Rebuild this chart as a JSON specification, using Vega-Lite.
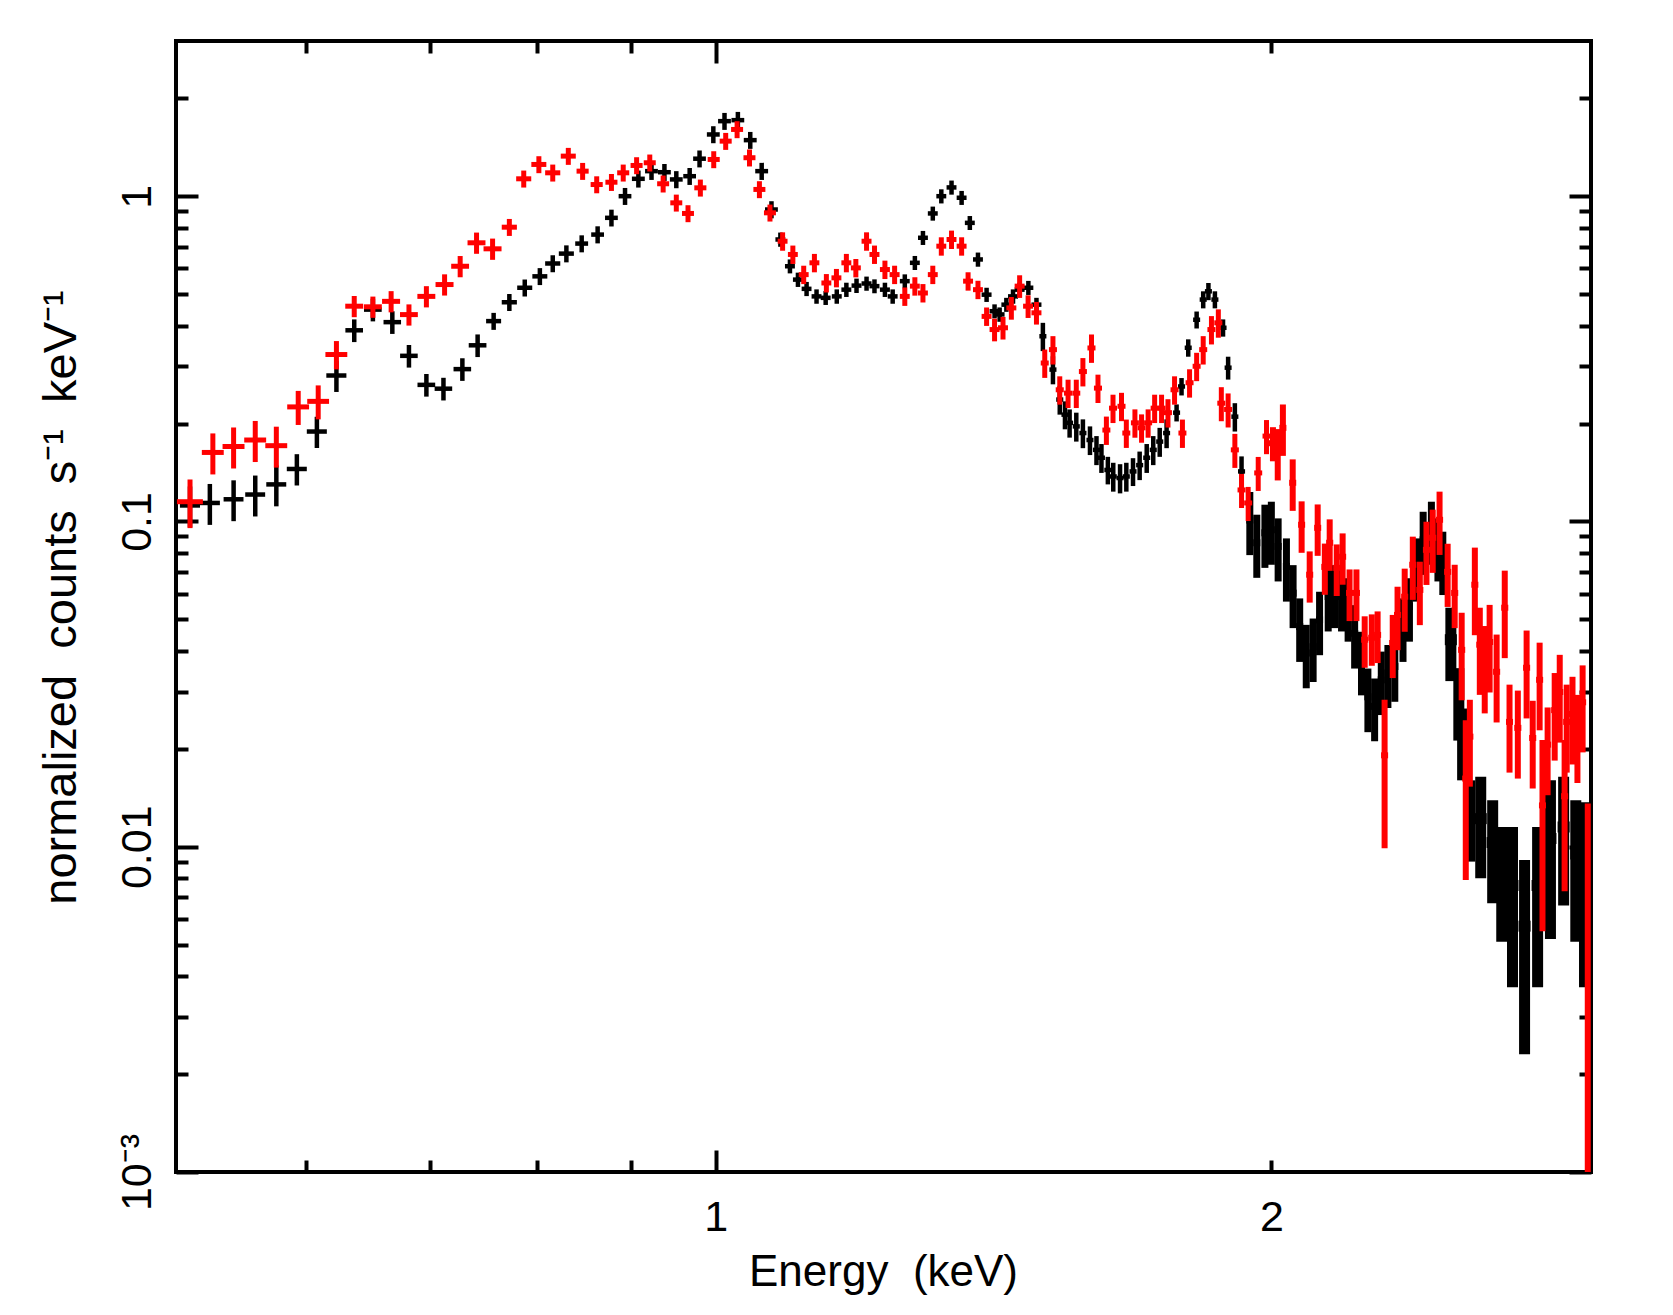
{
  "$schema": "https://vega.github.io/schema/vega-lite/v6.json",
  "width": 1415,
  "height": 1131,
  "autosize": {"type": "none"},
  "padding": {"left": 176, "top": 41, "right": 82, "bottom": 143},
  "background": "white",
  "datasets": {
    "black": [
      {"E":0.519,"dE":0.0065,"c":0.112,"dc":0.0161},
      {"E":0.532,"dE":0.0067,"c":0.114,"dc":0.0164},
      {"E":0.548,"dE":0.0068,"c":0.117,"dc":0.0168},
      {"E":0.563,"dE":0.0070,"c":0.121,"dc":0.0174},
      {"E":0.578,"dE":0.0072,"c":0.130,"dc":0.0187},
      {"E":0.593,"dE":0.0074,"c":0.145,"dc":0.016},
      {"E":0.608,"dE":0.0076,"c":0.189,"dc":0.0208},
      {"E":0.623,"dE":0.0078,"c":0.281,"dc":0.0309},
      {"E":0.637,"dE":0.0070,"c":0.387,"dc":0.031},
      {"E":0.652,"dE":0.0072,"c":0.448,"dc":0.0358},
      {"E":0.668,"dE":0.0073,"c":0.410,"dc":0.0328},
      {"E":0.682,"dE":0.0075,"c":0.323,"dc":0.0258},
      {"E":0.697,"dE":0.0077,"c":0.263,"dc":0.021},
      {"E":0.712,"dE":0.0078,"c":0.256,"dc":0.0205},
      {"E":0.729,"dE":0.0080,"c":0.294,"dc":0.0235},
      {"E":0.743,"dE":0.0082,"c":0.348,"dc":0.0278},
      {"E":0.758,"dE":0.0071,"c":0.413,"dc":0.0248},
      {"E":0.773,"dE":0.0073,"c":0.472,"dc":0.0283},
      {"E":0.788,"dE":0.0074,"c":0.523,"dc":0.0314},
      {"E":0.803,"dE":0.0075,"c":0.567,"dc":0.034},
      {"E":0.816,"dE":0.0077,"c":0.621,"dc":0.0373},
      {"E":0.830,"dE":0.0078,"c":0.666,"dc":0.040},
      {"E":0.846,"dE":0.0068,"c":0.715,"dc":0.043},
      {"E":0.863,"dE":0.0069,"c":0.762,"dc":0.046},
      {"E":0.878,"dE":0.0070,"c":0.858,"dc":0.051},
      {"E":0.893,"dE":0.0071,"c":1.000,"dc":0.060},
      {"E":0.908,"dE":0.0073,"c":1.131,"dc":0.068},
      {"E":0.923,"dE":0.0074,"c":1.194,"dc":0.072},
      {"E":0.938,"dE":0.0075,"c":1.185,"dc":0.071},
      {"E":0.952,"dE":0.0076,"c":1.126,"dc":0.068},
      {"E":0.968,"dE":0.0077,"c":1.152,"dc":0.069},
      {"E":0.980,"dE":0.0078,"c":1.304,"dc":0.078},
      {"E":0.997,"dE":0.0080,"c":1.548,"dc":0.093},
      {"E":1.011,"dE":0.0081,"c":1.701,"dc":0.102},
      {"E":1.028,"dE":0.0082,"c":1.713,"dc":0.103},
      {"E":1.044,"dE":0.0084,"c":1.487,"dc":0.089},
      {"E":1.059,"dE":0.0085,"c":1.194,"dc":0.072},
      {"E":1.072,"dE":0.0086,"c":0.910,"dc":0.055},
      {"E":1.084,"dE":0.0067,"c":0.736,"dc":0.037},
      {"E":1.097,"dE":0.0068,"c":0.609,"dc":0.030},
      {"E":1.108,"dE":0.0069,"c":0.554,"dc":0.028},
      {"E":1.120,"dE":0.0069,"c":0.519,"dc":0.026},
      {"E":1.134,"dE":0.0070,"c":0.492,"dc":0.025},
      {"E":1.147,"dE":0.0071,"c":0.487,"dc":0.024},
      {"E":1.163,"dE":0.0072,"c":0.492,"dc":0.025},
      {"E":1.177,"dE":0.0073,"c":0.516,"dc":0.026},
      {"E":1.192,"dE":0.0074,"c":0.531,"dc":0.027},
      {"E":1.207,"dE":0.0075,"c":0.539,"dc":0.027},
      {"E":1.219,"dE":0.0076,"c":0.529,"dc":0.026},
      {"E":1.235,"dE":0.0077,"c":0.516,"dc":0.026},
      {"E":1.247,"dE":0.0077,"c":0.492,"dc":0.025},
      {"E":1.266,"dE":0.0078,"c":0.548,"dc":0.027},
      {"E":1.282,"dE":0.0079,"c":0.624,"dc":0.031},
      {"E":1.295,"dE":0.0080,"c":0.745,"dc":0.037},
      {"E":1.311,"dE":0.0081,"c":0.885,"dc":0.044},
      {"E":1.325,"dE":0.0082,"c":1.000,"dc":0.050},
      {"E":1.342,"dE":0.0083,"c":1.064,"dc":0.053},
      {"E":1.359,"dE":0.0084,"c":0.989,"dc":0.049},
      {"E":1.373,"dE":0.0085,"c":0.828,"dc":0.041},
      {"E":1.387,"dE":0.0086,"c":0.639,"dc":0.032},
      {"E":1.402,"dE":0.0087,"c":0.498,"dc":0.025},
      {"E":1.416,"dE":0.0088,"c":0.443,"dc":0.022},
      {"E":1.425,"dE":0.0088,"c":0.433,"dc":0.022},
      {"E":1.437,"dE":0.0089,"c":0.464,"dc":0.023},
      {"E":1.449,"dE":0.0090,"c":0.492,"dc":0.025},
      {"E":1.461,"dE":0.0091,"c":0.516,"dc":0.026},
      {"E":1.477,"dE":0.0092,"c":0.523,"dc":0.026},
      {"E":1.492,"dE":0.0093,"c":0.464,"dc":0.023},
      {"E":1.504,"dE":0.0066,"c":0.371,"dc":0.037},
      {"E":1.523,"dE":0.0067,"c":0.293,"dc":0.029},
      {"E":1.536,"dE":0.0068,"c":0.237,"dc":0.024},
      {"E":1.546,"dE":0.0068,"c":0.213,"dc":0.021},
      {"E":1.555,"dE":0.0068,"c":0.201,"dc":0.020},
      {"E":1.568,"dE":0.0069,"c":0.196,"dc":0.020},
      {"E":1.581,"dE":0.0070,"c":0.187,"dc":0.019},
      {"E":1.595,"dE":0.0070,"c":0.178,"dc":0.018},
      {"E":1.608,"dE":0.0071,"c":0.166,"dc":0.017},
      {"E":1.618,"dE":0.0071,"c":0.157,"dc":0.016},
      {"E":1.631,"dE":0.0072,"c":0.144,"dc":0.014},
      {"E":1.642,"dE":0.0072,"c":0.1375,"dc":0.014},
      {"E":1.656,"dE":0.0073,"c":0.136,"dc":0.014},
      {"E":1.669,"dE":0.0073,"c":0.1375,"dc":0.014},
      {"E":1.683,"dE":0.0074,"c":0.1425,"dc":0.014},
      {"E":1.697,"dE":0.0075,"c":0.149,"dc":0.015},
      {"E":1.712,"dE":0.0075,"c":0.157,"dc":0.016},
      {"E":1.726,"dE":0.0076,"c":0.166,"dc":0.017},
      {"E":1.740,"dE":0.0077,"c":0.176,"dc":0.018},
      {"E":1.755,"dE":0.0077,"c":0.187,"dc":0.019},
      {"E":1.777,"dE":0.0078,"c":0.216,"dc":0.013},
      {"E":1.788,"dE":0.0079,"c":0.260,"dc":0.016},
      {"E":1.803,"dE":0.0079,"c":0.342,"dc":0.021},
      {"E":1.822,"dE":0.0080,"c":0.417,"dc":0.025},
      {"E":1.837,"dE":0.0081,"c":0.481,"dc":0.029},
      {"E":1.849,"dE":0.0081,"c":0.510,"dc":0.031},
      {"E":1.864,"dE":0.0082,"c":0.481,"dc":0.029},
      {"E":1.883,"dE":0.0083,"c":0.394,"dc":0.024},
      {"E":1.895,"dE":0.0083,"c":0.297,"dc":0.024},
      {"E":1.911,"dE":0.0084,"c":0.210,"dc":0.021},
      {"E":1.927,"dE":0.0085,"c":0.1425,"dc":0.016},
      {"E":1.947,"dE":0.0086,"c":0.101,"dc":0.0222},
      {"E":1.964,"dE":0.0086,"c":0.086,"dc":0.0189},
      {"E":1.984,"dE":0.0087,"c":0.0923,"dc":0.0203},
      {"E":2.000,"dE":0.0088,"c":0.0943,"dc":0.0207},
      {"E":2.017,"dE":0.0089,"c":0.0838,"dc":0.0184},
      {"E":2.038,"dE":0.0090,"c":0.0727,"dc":0.016},
      {"E":2.055,"dE":0.0090,"c":0.0602,"dc":0.0132},
      {"E":2.072,"dE":0.0091,"c":0.0475,"dc":0.0105},
      {"E":2.089,"dE":0.0092,"c":0.0394,"dc":0.0087},
      {"E":2.107,"dE":0.0093,"c":0.0412,"dc":0.0091},
      {"E":2.124,"dE":0.0093,"c":0.0498,"dc":0.011},
      {"E":2.147,"dE":0.0094,"c":0.0588,"dc":0.0129},
      {"E":2.164,"dE":0.0095,"c":0.0602,"dc":0.0132},
      {"E":2.183,"dE":0.0096,"c":0.0588,"dc":0.0129},
      {"E":2.201,"dE":0.0097,"c":0.0548,"dc":0.0121},
      {"E":2.219,"dE":0.0098,"c":0.0453,"dc":0.010},
      {"E":2.238,"dE":0.0098,"c":0.0375,"dc":0.0083},
      {"E":2.256,"dE":0.0099,"c":0.0289,"dc":0.0064},
      {"E":2.275,"dE":0.0100,"c":0.0270,"dc":0.0059},
      {"E":2.294,"dE":0.0101,"c":0.0326,"dc":0.0072},
      {"E":2.313,"dE":0.0102,"c":0.0342,"dc":0.0075},
      {"E":2.333,"dE":0.0103,"c":0.0358,"dc":0.0079},
      {"E":2.357,"dE":0.0104,"c":0.0475,"dc":0.0105},
      {"E":2.376,"dE":0.0105,"c":0.0548,"dc":0.0121},
      {"E":2.397,"dE":0.0105,"c":0.0727,"dc":0.016},
      {"E":2.417,"dE":0.0106,"c":0.0878,"dc":0.0193},
      {"E":2.442,"dE":0.0107,"c":0.0943,"dc":0.0207},
      {"E":2.462,"dE":0.0108,"c":0.0838,"dc":0.0184},
      {"E":2.477,"dE":0.0109,"c":0.0762,"dc":0.0168},
      {"E":2.502,"dE":0.0188,"c":0.0433,"dc":0.011},
      {"E":2.527,"dE":0.0110,"c":0.0283,"dc":0.0071},
      {"E":2.539,"dE":0.0110,"c":0.0213,"dc":0.0053},
      {"E":2.562,"dE":0.0110,"c":0.0125,"dc":0.0035},
      {"E":2.597,"dE":0.0195,"c":0.0122,"dc":0.0042},
      {"E":2.636,"dE":0.0198,"c":0.0103,"dc":0.0036},
      {"E":2.666,"dE":0.0200,"c":0.0083,"dc":0.0032},
      {"E":2.702,"dE":0.0203,"c":0.0076,"dc":0.0039},
      {"E":2.743,"dE":0.0206,"c":0.0057,"dc":0.0034},
      {"E":2.788,"dE":0.0209,"c":0.0076,"dc":0.0039},
      {"E":2.833,"dE":0.0212,"c":0.0106,"dc":0.0054},
      {"E":2.880,"dE":0.0216,"c":0.0115,"dc":0.0049},
      {"E":2.924,"dE":0.0200,"c":0.0095,"dc":0.0044},
      {"E":2.956,"dE":0.0120,"c":0.0087,"dc":0.005}
    ],
    "red": [
      {"E":0.519,"dE":0.0084,"c":0.115,"dc":0.0196},
      {"E":0.534,"dE":0.0073,"c":0.163,"dc":0.0235},
      {"E":0.548,"dE":0.0075,"c":0.170,"dc":0.0245},
      {"E":0.563,"dE":0.0077,"c":0.178,"dc":0.0257},
      {"E":0.578,"dE":0.0079,"c":0.171,"dc":0.0246},
      {"E":0.594,"dE":0.0081,"c":0.225,"dc":0.027},
      {"E":0.609,"dE":0.0083,"c":0.234,"dc":0.028},
      {"E":0.623,"dE":0.0085,"c":0.326,"dc":0.0326},
      {"E":0.637,"dE":0.0071,"c":0.459,"dc":0.0344},
      {"E":0.652,"dE":0.0073,"c":0.457,"dc":0.0343},
      {"E":0.667,"dE":0.0075,"c":0.475,"dc":0.0356},
      {"E":0.682,"dE":0.0076,"c":0.4325,"dc":0.0324},
      {"E":0.697,"dE":0.0078,"c":0.492,"dc":0.0369},
      {"E":0.713,"dE":0.0080,"c":0.535,"dc":0.0401},
      {"E":0.727,"dE":0.0081,"c":0.609,"dc":0.0457},
      {"E":0.742,"dE":0.0083,"c":0.719,"dc":0.0539},
      {"E":0.757,"dE":0.0085,"c":0.689,"dc":0.0517},
      {"E":0.773,"dE":0.0073,"c":0.803,"dc":0.0482},
      {"E":0.787,"dE":0.0074,"c":1.131,"dc":0.0679},
      {"E":0.802,"dE":0.0075,"c":1.252,"dc":0.0751},
      {"E":0.816,"dE":0.0077,"c":1.180,"dc":0.0708},
      {"E":0.832,"dE":0.0078,"c":1.328,"dc":0.0797},
      {"E":0.847,"dE":0.0064,"c":1.194,"dc":0.0716},
      {"E":0.862,"dE":0.0065,"c":1.086,"dc":0.0652},
      {"E":0.878,"dE":0.0066,"c":1.104,"dc":0.0662},
      {"E":0.891,"dE":0.0067,"c":1.180,"dc":0.0708},
      {"E":0.906,"dE":0.0068,"c":1.243,"dc":0.0746},
      {"E":0.921,"dE":0.0069,"c":1.267,"dc":0.076},
      {"E":0.9365,"dE":0.0070,"c":1.092,"dc":0.0655},
      {"E":0.952,"dE":0.0071,"c":0.954,"dc":0.0572},
      {"E":0.966,"dE":0.0072,"c":0.885,"dc":0.0531},
      {"E":0.981,"dE":0.0074,"c":1.061,"dc":0.0637},
      {"E":0.9975,"dE":0.0075,"c":1.297,"dc":0.0778},
      {"E":1.0125,"dE":0.0076,"c":1.4765,"dc":0.0886},
      {"E":1.027,"dE":0.0077,"c":1.604,"dc":0.0962},
      {"E":1.043,"dE":0.0078,"c":1.313,"dc":0.0788},
      {"E":1.056,"dE":0.0079,"c":1.049,"dc":0.0629},
      {"E":1.070,"dE":0.0080,"c":0.889,"dc":0.0533},
      {"E":1.087,"dE":0.0067,"c":0.727,"dc":0.0473},
      {"E":1.101,"dE":0.0068,"c":0.662,"dc":0.043},
      {"E":1.116,"dE":0.0069,"c":0.574,"dc":0.0373},
      {"E":1.131,"dE":0.0070,"c":0.624,"dc":0.0406},
      {"E":1.148,"dE":0.0071,"c":0.541,"dc":0.0352},
      {"E":1.1625,"dE":0.0072,"c":0.561,"dc":0.0365},
      {"E":1.177,"dE":0.0073,"c":0.624,"dc":0.0406},
      {"E":1.191,"dE":0.0074,"c":0.602,"dc":0.0391},
      {"E":1.207,"dE":0.0075,"c":0.727,"dc":0.0473},
      {"E":1.219,"dE":0.0076,"c":0.662,"dc":0.043},
      {"E":1.235,"dE":0.0077,"c":0.595,"dc":0.0387},
      {"E":1.250,"dE":0.0078,"c":0.574,"dc":0.0373},
      {"E":1.266,"dE":0.0078,"c":0.492,"dc":0.032},
      {"E":1.282,"dE":0.0079,"c":0.529,"dc":0.0344},
      {"E":1.295,"dE":0.0080,"c":0.504,"dc":0.0328},
      {"E":1.311,"dE":0.0081,"c":0.574,"dc":0.0373},
      {"E":1.325,"dE":0.0082,"c":0.702,"dc":0.0456},
      {"E":1.342,"dE":0.0083,"c":0.736,"dc":0.0478},
      {"E":1.359,"dE":0.0084,"c":0.702,"dc":0.0456},
      {"E":1.370,"dE":0.0085,"c":0.548,"dc":0.0356},
      {"E":1.387,"dE":0.0086,"c":0.516,"dc":0.0335},
      {"E":1.402,"dE":0.0087,"c":0.427,"dc":0.0278},
      {"E":1.416,"dE":0.0088,"c":0.389,"dc":0.0311},
      {"E":1.431,"dE":0.0089,"c":0.394,"dc":0.0315},
      {"E":1.446,"dE":0.0090,"c":0.4535,"dc":0.0363},
      {"E":1.461,"dE":0.0091,"c":0.529,"dc":0.0423},
      {"E":1.4765,"dE":0.0092,"c":0.459,"dc":0.0367},
      {"E":1.492,"dE":0.0093,"c":0.438,"dc":0.035},
      {"E":1.5075,"dE":0.0075,"c":0.307,"dc":0.0307},
      {"E":1.523,"dE":0.0076,"c":0.3375,"dc":0.0338},
      {"E":1.536,"dE":0.0077,"c":0.254,"dc":0.0254},
      {"E":1.552,"dE":0.0078,"c":0.248,"dc":0.0248},
      {"E":1.568,"dE":0.0078,"c":0.248,"dc":0.0248},
      {"E":1.581,"dE":0.0079,"c":0.289,"dc":0.0289},
      {"E":1.598,"dE":0.0080,"c":0.3415,"dc":0.0342},
      {"E":1.611,"dE":0.0081,"c":0.257,"dc":0.0257},
      {"E":1.628,"dE":0.0081,"c":0.191,"dc":0.0191},
      {"E":1.6415,"dE":0.0082,"c":0.223,"dc":0.0223},
      {"E":1.659,"dE":0.0083,"c":0.226,"dc":0.0226},
      {"E":1.669,"dE":0.0083,"c":0.187,"dc":0.0187},
      {"E":1.687,"dE":0.0084,"c":0.201,"dc":0.0201},
      {"E":1.701,"dE":0.0085,"c":0.194,"dc":0.0194},
      {"E":1.715,"dE":0.0086,"c":0.201,"dc":0.0201},
      {"E":1.729,"dE":0.0086,"c":0.223,"dc":0.0223},
      {"E":1.744,"dE":0.0087,"c":0.223,"dc":0.0223},
      {"E":1.758,"dE":0.0088,"c":0.216,"dc":0.0216},
      {"E":1.7725,"dE":0.0089,"c":0.254,"dc":0.0254},
      {"E":1.790,"dE":0.0089,"c":0.187,"dc":0.0187},
      {"E":1.806,"dE":0.0090,"c":0.267,"dc":0.0267},
      {"E":1.822,"dE":0.0091,"c":0.300,"dc":0.030},
      {"E":1.837,"dE":0.0092,"c":0.3375,"dc":0.0338},
      {"E":1.856,"dE":0.0093,"c":0.389,"dc":0.0389},
      {"E":1.872,"dE":0.0094,"c":0.408,"dc":0.0408},
      {"E":1.879,"dE":0.0094,"c":0.231,"dc":0.0277},
      {"E":1.895,"dE":0.0095,"c":0.221,"dc":0.0265},
      {"E":1.911,"dE":0.0096,"c":0.166,"dc":0.0199},
      {"E":1.927,"dE":0.0096,"c":0.125,"dc":0.015},
      {"E":1.943,"dE":0.0097,"c":0.114,"dc":0.0137},
      {"E":1.9675,"dE":0.0098,"c":0.141,"dc":0.0169},
      {"E":1.988,"dE":0.0099,"c":0.183,"dc":0.022},
      {"E":2.004,"dE":0.0100,"c":0.174,"dc":0.0209},
      {"E":2.016,"dE":0.0089,"c":0.163,"dc":0.0293},
      {"E":2.029,"dE":0.0089,"c":0.194,"dc":0.0349},
      {"E":2.054,"dE":0.0090,"c":0.1315,"dc":0.0237},
      {"E":2.077,"dE":0.0091,"c":0.0977,"dc":0.0176},
      {"E":2.098,"dE":0.0092,"c":0.0686,"dc":0.0123},
      {"E":2.119,"dE":0.0093,"c":0.0956,"dc":0.0172},
      {"E":2.138,"dE":0.0094,"c":0.0725,"dc":0.013},
      {"E":2.151,"dE":0.0095,"c":0.086,"dc":0.0155},
      {"E":2.170,"dE":0.0095,"c":0.072,"dc":0.013},
      {"E":2.186,"dE":0.0096,"c":0.0779,"dc":0.014},
      {"E":2.205,"dE":0.0097,"c":0.0603,"dc":0.0109},
      {"E":2.224,"dE":0.0098,"c":0.0603,"dc":0.0109},
      {"E":2.247,"dE":0.0099,"c":0.0433,"dc":0.0078},
      {"E":2.267,"dE":0.0100,"c":0.0439,"dc":0.0079},
      {"E":2.2835,"dE":0.0100,"c":0.0448,"dc":0.0081},
      {"E":2.3035,"dE":0.0101,"c":0.0191,"dc":0.0092},
      {"E":2.327,"dE":0.0102,"c":0.0423,"dc":0.0093},
      {"E":2.341,"dE":0.0103,"c":0.0516,"dc":0.0114},
      {"E":2.362,"dE":0.0104,"c":0.0587,"dc":0.0129},
      {"E":2.386,"dE":0.0105,"c":0.0736,"dc":0.0162},
      {"E":2.407,"dE":0.0106,"c":0.0616,"dc":0.0136},
      {"E":2.427,"dE":0.0107,"c":0.0818,"dc":0.018},
      {"E":2.446,"dE":0.0108,"c":0.0891,"dc":0.0196},
      {"E":2.467,"dE":0.0109,"c":0.1012,"dc":0.0223},
      {"E":2.492,"dE":0.0110,"c":0.0700,"dc":0.0154},
      {"E":2.514,"dE":0.0111,"c":0.0603,"dc":0.0133},
      {"E":2.536,"dE":0.0112,"c":0.0403,"dc":0.0121},
      {"E":2.549,"dE":0.0112,"c":0.0162,"dc":0.0083},
      {"E":2.562,"dE":0.0113,"c":0.0218,"dc":0.0065},
      {"E":2.578,"dE":0.0113,"c":0.0639,"dc":0.0192},
      {"E":2.594,"dE":0.0114,"c":0.0418,"dc":0.0125},
      {"E":2.610,"dE":0.0115,"c":0.0367,"dc":0.011},
      {"E":2.626,"dE":0.0116,"c":0.0426,"dc":0.0128},
      {"E":2.649,"dE":0.0117,"c":0.0345,"dc":0.0104},
      {"E":2.676,"dE":0.0118,"c":0.0543,"dc":0.0163},
      {"E":2.692,"dE":0.0118,"c":0.0242,"dc":0.0073},
      {"E":2.720,"dE":0.0120,"c":0.0232,"dc":0.007},
      {"E":2.750,"dE":0.0121,"c":0.0355,"dc":0.0107},
      {"E":2.771,"dE":0.0122,"c":0.0216,"dc":0.0065},
      {"E":2.795,"dE":0.0123,"c":0.0326,"dc":0.0098},
      {"E":2.805,"dE":0.0123,"c":0.0134,"dc":0.0079},
      {"E":2.823,"dE":0.0124,"c":0.0206,"dc":0.0062},
      {"E":2.848,"dE":0.0125,"c":0.0263,"dc":0.0079},
      {"E":2.866,"dE":0.0126,"c":0.0299,"dc":0.009},
      {"E":2.8835,"dE":0.0127,"c":0.0143,"dc":0.007},
      {"E":2.891,"dE":0.0127,"c":0.0242,"dc":0.0073},
      {"E":2.912,"dE":0.0128,"c":0.0256,"dc":0.0077},
      {"E":2.930,"dE":0.0129,"c":0.0225,"dc":0.0068},
      {"E":2.949,"dE":0.0130,"c":0.0278,"dc":0.0083},
      {"E":2.968,"dE":0.0080,"c":0.0068,"dc":0.00679}
    ]
  },
  "layer": [
    {
      "data": {"name": "black"},
      "transform": [{"filter": "datum.E < 1.94"}],
      "mark": {"type": "errorbar", "orient": "horizontal", "color": "#000000", "thickness": 4.5, "clip": true},
      "encoding": {
        "x": {
          "field": "E", "type": "quantitative",
          "scale": {"type": "log", "domain": [0.51, 2.98], "nice": false},
          "axis": {
            "orient": "bottom", "values": [1, 2], "ticks": false,
            "labelExpr": "datum.value < 1.5 ? '1' : '2'",
            "labelBaseline": "alphabetic", "labelPadding": 58,
            "title": "Energy\u00a0\u00a0(keV)", "titleBaseline": "alphabetic",
            "titleX": 707, "titleY": 113
          }
        },
        "xError": {"field": "dE"},
        "y": {
          "field": "c", "type": "quantitative",
          "scale": {"type": "log", "domain": [0.001, 3], "nice": false, "clamp": true},
          "axis": {
            "orient": "left", "values": [0.001, 0.01, 0.1, 1], "ticks": false,
            "labelExpr": "datum.value < 0.005 ? '10⁻³' : datum.value < 0.05 ? '0.01' : datum.value < 0.5 ? '0.1' : '1'",
            "labelAngle": 270, "labelAlign": "center", "labelBaseline": "alphabetic", "labelPadding": 26,
            "title": "normalized\u00a0\u00a0counts\u00a0\u00a0s⁻¹\u00a0\u00a0keV⁻¹", "titleAngle": 270,
            "titleFontSize": 47,
            "titleAlign": "center", "titleBaseline": "alphabetic",
            "titleX": -101, "titleY": 556
          }
        }
      }
    },
    {
      "data": {"name": "black"},
      "transform": [{"filter": "datum.E < 1.94"}],
      "mark": {"type": "errorbar", "orient": "vertical", "color": "#000000", "thickness": 4.5, "clip": true},
      "encoding": {
        "x": {
          "field": "E", "type": "quantitative",
          "scale": {"type": "log", "domain": [0.51, 2.98], "nice": false},
          "axis": {"orient": "bottom", "values": [1], "labels": false, "tickSize": -22, "title": null}
        },
        "y": {
          "field": "c", "type": "quantitative",
          "scale": {"type": "log", "domain": [0.001, 3], "nice": false, "clamp": true},
          "axis": {"orient": "left", "values": [0.001, 0.01, 0.1, 1], "labels": false, "tickSize": -22, "title": null}
        },
        "yError": {"field": "dc"}
      }
    },
    {
      "data": {"name": "black"},
      "transform": [{"filter": "datum.E >= 1.94 && datum.E < 2.49"}],
      "mark": {"type": "errorbar", "orient": "horizontal", "color": "#000000", "thickness": 7, "clip": true},
      "encoding": {
        "x": {"field": "E", "type": "quantitative", "scale": {"type": "log", "domain": [0.51, 2.98], "nice": false}, "axis": null},
        "xError": {"field": "dE"},
        "y": {"field": "c", "type": "quantitative", "scale": {"type": "log", "domain": [0.001, 3], "nice": false, "clamp": true}, "axis": null}
      }
    },
    {
      "data": {"name": "black"},
      "transform": [{"filter": "datum.E >= 1.94 && datum.E < 2.49"}],
      "mark": {"type": "errorbar", "orient": "vertical", "color": "#000000", "thickness": 7, "clip": true},
      "encoding": {
        "x": {"field": "E", "type": "quantitative", "scale": {"type": "log", "domain": [0.51, 2.98], "nice": false}, "axis": null},
        "y": {"field": "c", "type": "quantitative", "scale": {"type": "log", "domain": [0.001, 3], "nice": false, "clamp": true}, "axis": null},
        "yError": {"field": "dc"}
      }
    },
    {
      "data": {"name": "black"},
      "transform": [{"filter": "datum.E >= 2.49"}],
      "mark": {"type": "errorbar", "orient": "horizontal", "color": "#000000", "thickness": 11, "clip": true},
      "encoding": {
        "x": {"field": "E", "type": "quantitative", "scale": {"type": "log", "domain": [0.51, 2.98], "nice": false}, "axis": null},
        "xError": {"field": "dE"},
        "y": {"field": "c", "type": "quantitative", "scale": {"type": "log", "domain": [0.001, 3], "nice": false, "clamp": true}, "axis": null}
      }
    },
    {
      "data": {"name": "black"},
      "transform": [{"filter": "datum.E >= 2.49"}],
      "mark": {"type": "errorbar", "orient": "vertical", "color": "#000000", "thickness": 11, "clip": true},
      "encoding": {
        "x": {"field": "E", "type": "quantitative", "scale": {"type": "log", "domain": [0.51, 2.98], "nice": false}, "axis": null},
        "y": {"field": "c", "type": "quantitative", "scale": {"type": "log", "domain": [0.001, 3], "nice": false, "clamp": true}, "axis": null},
        "yError": {"field": "dc"}
      }
    },
    {
      "data": {"name": "red"},
      "transform": [{"filter": "datum.E < 2.0"}],
      "mark": {"type": "errorbar", "orient": "horizontal", "color": "#ff0000", "thickness": 5, "clip": true},
      "encoding": {
        "x": {
          "field": "E", "type": "quantitative",
          "scale": {"type": "log", "domain": [0.51, 2.98], "nice": false},
          "axis": {"orient": "bottom", "values": [0.6, 0.7, 0.8, 0.9, 2], "labels": false, "tickSize": -12, "title": null}
        },
        "xError": {"field": "dE"},
        "y": {
          "field": "c", "type": "quantitative",
          "scale": {"type": "log", "domain": [0.001, 3], "nice": false, "clamp": true},
          "axis": {
            "orient": "left", "labels": false, "tickSize": -12, "title": null,
            "values": [0.002, 0.003, 0.004, 0.005, 0.006, 0.007, 0.008, 0.009, 0.02, 0.03, 0.04, 0.05, 0.06, 0.07, 0.08, 0.09, 0.2, 0.3, 0.4, 0.5, 0.6, 0.7, 0.8, 0.9, 2]
          }
        }
      }
    },
    {
      "data": {"name": "red"},
      "transform": [{"filter": "datum.E < 2.0"}],
      "mark": {"type": "errorbar", "orient": "vertical", "color": "#ff0000", "thickness": 5, "clip": true},
      "encoding": {
        "x": {
          "field": "E", "type": "quantitative",
          "scale": {"type": "log", "domain": [0.51, 2.98], "nice": false},
          "axis": {"orient": "top", "values": [1], "labels": false, "tickSize": -22, "title": null}
        },
        "y": {
          "field": "c", "type": "quantitative",
          "scale": {"type": "log", "domain": [0.001, 3], "nice": false, "clamp": true},
          "axis": {"orient": "right", "values": [0.001, 0.01, 0.1, 1], "labels": false, "tickSize": -22, "title": null}
        },
        "yError": {"field": "dc"}
      }
    },
    {
      "data": {"name": "red"},
      "transform": [{"filter": "datum.E >= 2.0"}],
      "mark": {"type": "errorbar", "orient": "horizontal", "color": "#ff0000", "thickness": 6, "clip": true},
      "encoding": {
        "x": {"field": "E", "type": "quantitative", "scale": {"type": "log", "domain": [0.51, 2.98], "nice": false}, "axis": null},
        "xError": {"field": "dE"},
        "y": {"field": "c", "type": "quantitative", "scale": {"type": "log", "domain": [0.001, 3], "nice": false, "clamp": true}, "axis": null}
      }
    },
    {
      "data": {"name": "red"},
      "transform": [{"filter": "datum.E >= 2.0"}],
      "mark": {"type": "errorbar", "orient": "vertical", "color": "#ff0000", "thickness": 6, "clip": true},
      "encoding": {
        "x": {"field": "E", "type": "quantitative", "scale": {"type": "log", "domain": [0.51, 2.98], "nice": false}, "axis": null},
        "y": {"field": "c", "type": "quantitative", "scale": {"type": "log", "domain": [0.001, 3], "nice": false, "clamp": true}, "axis": null},
        "yError": {"field": "dc"}
      }
    },
    {
      "data": {"name": "red"},
      "mark": {"type": "point", "opacity": 0},
      "encoding": {
        "x": {
          "field": "E", "type": "quantitative",
          "scale": {"type": "log", "domain": [0.51, 2.98], "nice": false},
          "axis": {"orient": "top", "values": [0.6, 0.7, 0.8, 0.9, 2], "labels": false, "tickSize": -12, "title": null}
        },
        "y": {
          "field": "c", "type": "quantitative",
          "scale": {"type": "log", "domain": [0.001, 3], "nice": false, "clamp": true},
          "axis": {
            "orient": "right", "labels": false, "tickSize": -12, "title": null,
            "values": [0.002, 0.003, 0.004, 0.005, 0.006, 0.007, 0.008, 0.009, 0.02, 0.03, 0.04, 0.05, 0.06, 0.07, 0.08, 0.09, 0.2, 0.3, 0.4, 0.5, 0.6, 0.7, 0.8, 0.9, 2]
          }
        }
      }
    }
  ],
  "resolve": {"axis": {"x": "independent", "y": "independent"}},
  "config": {
    "view": {"stroke": "#000000", "strokeWidth": 4},
    "axis": {
      "grid": false,
      "domain": false,
      "tickColor": "#000000",
      "tickWidth": 4,
      "labelColor": "#000000",
      "titleColor": "#000000",
      "labelFont": "Liberation Sans",
      "titleFont": "Liberation Sans",
      "labelFontSize": 43,
      "titleFontSize": 44,
      "titleFontWeight": "normal",
      "labelOverlap": false,
      "labelFlush": false
    }
  }
}
